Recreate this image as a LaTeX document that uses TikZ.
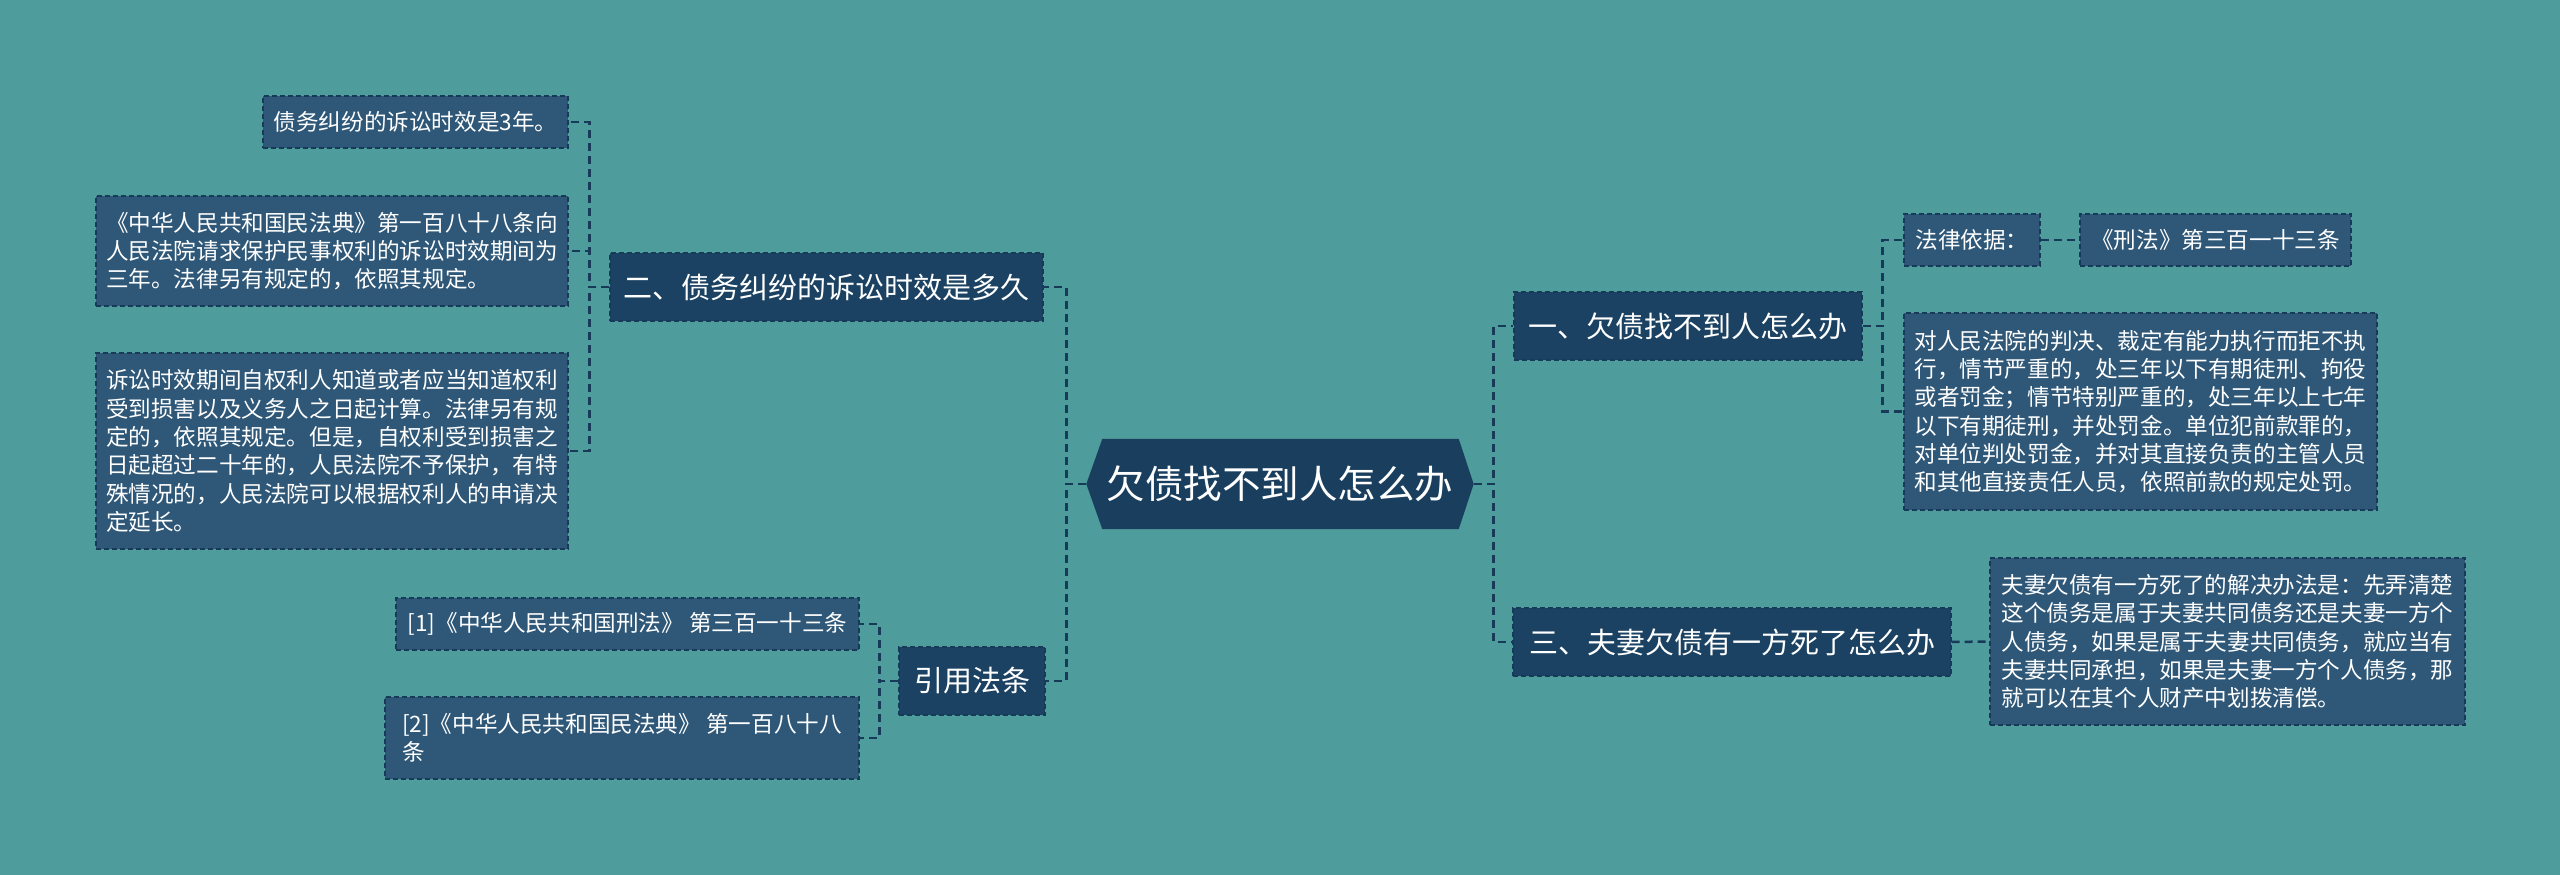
\documentclass[tikz,border=0pt]{standalone}
\usepackage{fontspec}
\setmainfont{Noto Sans CJK SC}
\usetikzlibrary{backgrounds}
\definecolor{bgc}{HTML}{4E9C9C}
\definecolor{cfill}{HTML}{1A3F5E}
\definecolor{lonefill}{HTML}{1B4262}
\definecolor{ltwofill}{HTML}{2F5878}
\definecolor{linec}{HTML}{163A58}
\tikzset{
  boxbase/.style={draw=linec, dash pattern=on 5pt off 3pt, line width=1.3pt, text=white, inner sep=0pt, align=left},
  lone/.style={boxbase, fill=lonefill, font=\fontsize{29}{34}\selectfont},
  ltwo/.style={boxbase, fill=ltwofill, font=\fontsize{22.6}{28.3}\selectfont},
  ctext/.style={text=white, inner sep=0pt, font=\fontsize{38.5}{44}\selectfont},
  conn/.style={draw=linec, line width=2.5pt, dash pattern=on 8pt off 5pt},
  sz/.style 2 args={minimum width=#1pt, minimum height=#2pt}
}
\begin{document}
\begin{tikzpicture}[x=1pt,y=-1pt]
\begin{scope}[on background layer]
\fill[bgc] (0,0) rectangle (2560,875);
\end{scope}
\useasboundingbox (0,0) rectangle (2560,875);

% central
\node[ctext, sz={387}{90}] (c) at (1280,484) {欠债找不到人怎么办};
\begin{scope}[on background layer]
\fill[cfill] ([xshift=16pt]c.north west) -- ([xshift=-15pt]c.north east) -- (c.east) -- ([xshift=-15pt]c.south east) -- ([xshift=16pt]c.south west) -- (c.west) -- cycle;
\end{scope}

% left side
\node[lone, sz={433}{68}] (n2) at (826.5,287) {二、债务纠纷的诉讼时效是多久};
\node[lone, sz={146}{68}] (n4) at (972,681) {引用法条};

\node[ltwo, sz={305}{52}] (a1) at (415.5,122) {债务纠纷的诉讼时效是3年。};
\node[ltwo, sz={472}{110}] (a2) at (332,251) {《中华人民共和国民法典》第一百八十八条向\\人民法院请求保护民事权利的诉讼时效期间为\\三年。法律另有规定的，依照其规定。};
\node[ltwo, sz={472}{196}] (a3) at (332,451) {诉讼时效期间自权利人知道或者应当知道权利\\受到损害以及义务人之日起计算。法律另有规\\定的，依照其规定。但是，自权利受到损害之\\日起超过二十年的，人民法院不予保护，有特\\殊情况的，人民法院可以根据权利人的申请决\\定延长。};

\node[ltwo, sz={463}{52}] (c1) at (627.5,624) {[1]《中华人民共和国刑法》 第三百一十三条};
\node[ltwo, sz={474}{82}] (c2) at (622,738) {[2]《中华人民共和国民法典》 第一百八十八\\条};

% right side
\node[lone, sz={348}{68}] (n1) at (1688,326) {一、欠债找不到人怎么办};
\node[lone, sz={438}{68}] (n3) at (1732,642) {三、夫妻欠债有一方死了怎么办};

\node[ltwo, sz={136}{52}] (b1) at (1972,240) {法律依据：};
\node[ltwo, sz={271}{52}] (b2) at (2215.5,240) {《刑法》第三百一十三条};
\node[ltwo, sz={473}{197}] (b3) at (2140.5,411.5) {对人民法院的判决、裁定有能力执行而拒不执\\行，情节严重的，处三年以下有期徒刑、拘役\\或者罚金；情节特别严重的，处三年以上七年\\以下有期徒刑，并处罚金。单位犯前款罪的，\\对单位判处罚金，并对其直接负责的主管人员\\和其他直接责任人员，依照前款的规定处罚。};
\node[ltwo, sz={475}{167}] (d1) at (2227.5,641.5) {夫妻欠债有一方死了的解决办法是：先弄清楚\\这个债务是属于夫妻共同债务还是夫妻一方个\\人债务，如果是属于夫妻共同债务，就应当有\\夫妻共同承担，如果是夫妻一方个人债务，那\\就可以在其个人财产中划拨清偿。};

% connectors
\draw[conn] (c.west) -- ++(-20,0) |- (n2.east);
\draw[conn] (c.west) -- ++(-20,0) |- (n4.east);
\draw[conn] (c.east) -- ++(20,0) |- (n1.west);
\draw[conn] (c.east) -- ++(20,0) |- (n3.west);

\draw[conn] (n2.west) -- ++(-20,0) |- (a1.east);
\draw[conn] (n2.west) -- ++(-20,0) |- (a2.east);
\draw[conn] (n2.west) -- ++(-20,0) |- (a3.east);

\draw[conn] (n4.west) -- ++(-19,0) |- (c1.east);
\draw[conn] (n4.west) -- ++(-19,0) |- (c2.east);

\draw[conn] (n1.east) -- ++(20,0) |- (b1.west);
\draw[conn] (n1.east) -- ++(20,0) |- (b3.west);
\draw[conn] (b1.east) -- (b2.west);
\draw[conn] (n3.east) -- (d1.west);
\end{tikzpicture}
\end{document}
